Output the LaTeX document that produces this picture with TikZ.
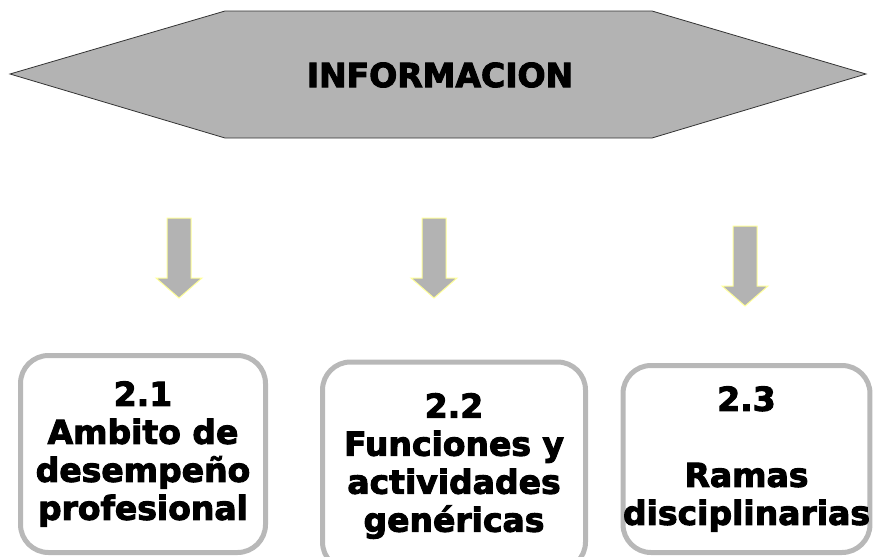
\documentclass[tikz,border=0pt]{standalone}
\usepackage{fontspec}
\setmainfont{DejaVu Sans}
\newfontfamily\gruesa{DejaVu Sans Bold}[FakeBold=3]
\usetikzlibrary{positioning}
\definecolor{grisclaro}{HTML}{B3B3B3}
\definecolor{amarillo}{HTML}{FFFF99}
\definecolor{borde}{HTML}{B8B8B8}

\begin{document}
\begin{tikzpicture}[x=1pt, y=-1pt,
  lbl/.style={font=\fontsize{33}{38}\selectfont\gruesa, align=center, inner sep=0pt},
  rbox/.style={lbl, draw=borde, line width=5pt, rounded corners=28pt},
  arw/.style={fill=grisclaro, draw=amarillo, line width=1pt}]
\clip (0,0) rectangle (873,557);
% hexagono
\draw[fill=grisclaro, draw=black!80, line width=0.8pt] (10,74) -- (225,11) -- (652,11) -- (866,74) -- (652,138) -- (225,138) -- cycle;
\node[lbl] (info) at (440,75) {INFORMACION};
% flechas
\foreach \x/\y in {179/218, 434/218, 745/226}{
  \draw[arw] (\x-12,\y) -- (\x+12,\y) -- (\x+12,\y+60) -- (\x+23,\y+60) -- (\x,\y+80) -- (\x-23,\y+60) -- (\x-12,\y+60) -- cycle;}
% cajas
\node[rbox, minimum width=245pt, minimum height=197pt] (ambito) at (143,454) {2.1\\Ambito de\\desempeño\\profesional};
\node[rbox, minimum width=263pt, minimum height=208pt] (funciones) at (454,466) {2.2\\Funciones y\\actividades\\genéricas};
\node[rbox, minimum width=242pt, minimum height=187pt] (ramas) at (746.5,459) {2.3\\[38pt]Ramas\\disciplinarias};
\end{tikzpicture}
\end{document}
